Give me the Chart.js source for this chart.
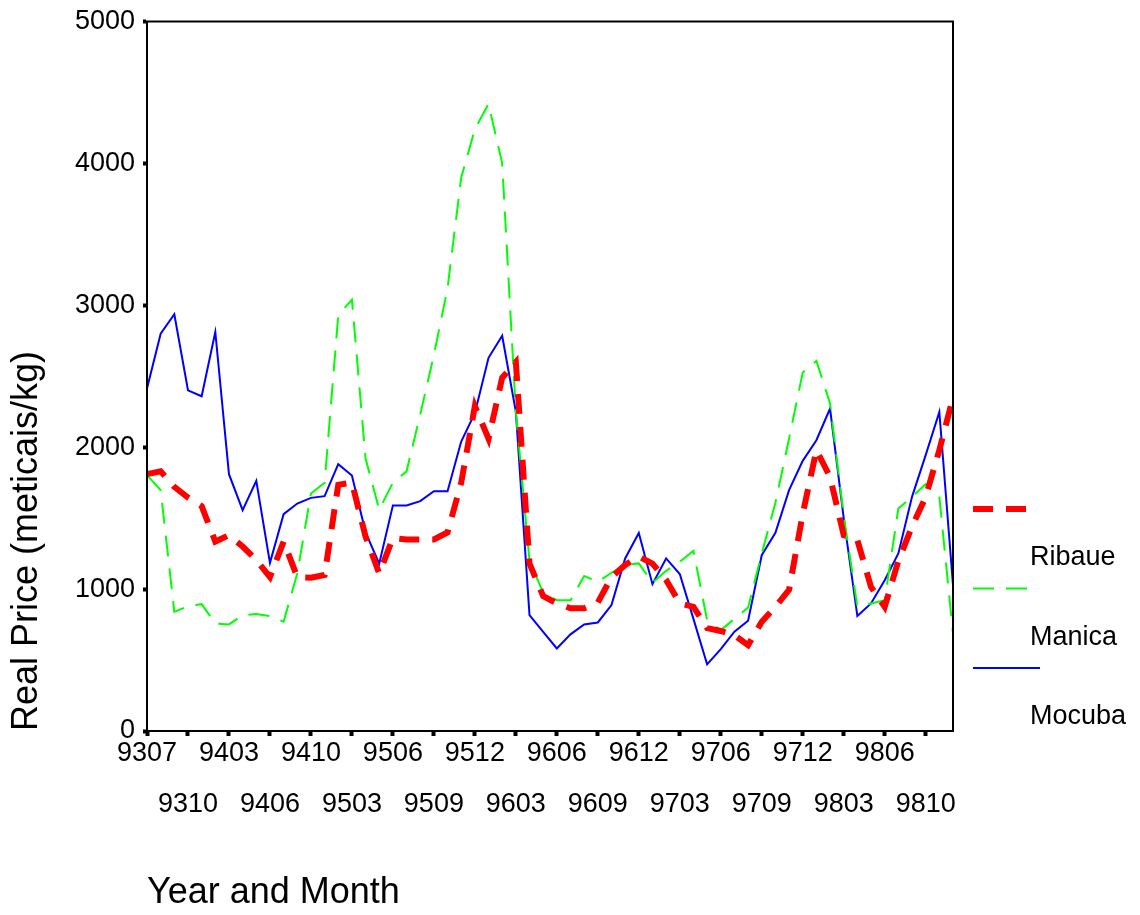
<!DOCTYPE html>
<html>
<head>
<meta charset="utf-8">
<title>Real Price</title>
<script src="https://cdn.jsdelivr.net/npm/chart.js@4.4.1/dist/chart.umd.min.js"></script>
<style>
  body { margin: 0; background: #fff; }
</style>
</head>
<body>
<canvas id="chart1" width="1140" height="915"></canvas>
<script>
// year+month codes (some months missing in the source series)
var months = ['9307','9308','9309','9310','9311','9312','9403','9404','9405','9406',
              '9407','9408','9410','9411','9412','9503','9504','9505','9506','9507',
              '9508','9509','9510','9511','9512','9601','9602','9603','9604','9605',
              '9606','9607','9608','9609','9610','9611','9612','9701','9702','9703',
              '9704','9705','9706','9707','9708','9709','9710','9711','9712','9801',
              '9802','9803','9804','9805','9806','9807','9808','9810','9811','9812'];

var ribaue = [1810,1830,1720,1645,1585,1335,1380,1300,1205,1085,
              1335,1085,1080,1100,1735,1750,1370,1110,1360,1350,
              1350,1350,1400,1750,2290,2060,2490,2600,1180,950,
              900,865,865,905,1085,1170,1230,1180,1065,900,
              875,725,705,675,605,770,875,995,1530,1980,
              1790,1380,1345,1015,875,1200,1440,1650,1980,2350];

var manica = [1803,1697,840,880,894,758,751,817,824,810,
              770,1110,1674,1749,2930,3040,1920,1560,1750,1830,
              2230,2650,3120,3900,4240,4420,4000,2250,1200,974,
              922,922,1092,1052,1115,1169,1181,1045,1129,1192,
              1270,782,711,790,870,1251,1608,2061,2526,2608,
              2308,1520,876,899,922,1568,1650,1739,1650,688];

var mocuba = [2413,2800,2937,2401,2359,2812,1810,1556,1763,1185,
              1528,1603,1643,1655,1880,1800,1400,1180,1590,1590,
              1620,1690,1690,2040,2240,2630,2785,2250,817,699,
              582,681,751,765,887,1216,1396,1035,1216,1106,
              790,470,577,700,777,1239,1397,1697,1904,2049,
              2272,1500,810,899,1063,1251,1650,1944,2249,1028];

var yTicks = [0, 1000, 2000, 3000, 4000, 5000];

var FONT = "'Liberation Sans', Arial, sans-serif";

// box round the plot
var frame = {
    id: 'frame',
    afterDraw: function (chart) {
        var a = chart.chartArea, ctx = chart.ctx;
        ctx.save();
        ctx.strokeStyle = '#000';
        ctx.lineWidth = 2;
        ctx.strokeRect(a.left, a.top, a.right - a.left, a.bottom - a.top);
        ctx.restore();
    }
};

// SPSS style legend: sample line above its name
var sideLegend = {
    id: 'sideLegend',
    afterDraw: function (chart) {
        var ctx = chart.ctx, a = chart.chartArea;
        ctx.save();
        chart.data.datasets.forEach(function (ds, i) {
            var y = 509 + i * 79.5;
            ctx.beginPath();
            ctx.strokeStyle = ds.borderColor;
            ctx.lineWidth = ds.borderWidth;
            ctx.lineCap = 'butt';
            ctx.setLineDash(ds.borderDash || []);
            ctx.moveTo(a.right + 20, y);
            ctx.lineTo(a.right + (ds.borderDash ? 75 : 87), y);
            ctx.stroke();
            ctx.setLineDash([]);
            ctx.fillStyle = '#000';
            ctx.font = '27px ' + FONT;
            ctx.textBaseline = 'middle';
            ctx.textAlign = 'left';
            ctx.fillText(ds.label, a.right + 77, y + 49);
        });
        ctx.restore();
    }
};

var ctx1 = document.getElementById('chart1').getContext('2d');
var chart1 = new Chart(ctx1, {
    type: 'line',
    data: {
        labels: months,
        datasets: [
            { label: 'Ribaue', data: ribaue, borderColor: '#ff0000', borderWidth: 6,
              borderDash: [20, 13], borderCapStyle: 'butt' },
            { label: 'Manica', data: manica, borderColor: '#00ff00', borderWidth: 2,
              borderDash: [21, 12], borderCapStyle: 'butt' },
            { label: 'Mocuba', data: mocuba, borderColor: '#0000ff', borderWidth: 2 }
        ]
    },
    options: {
        responsive: false,
        animation: false,
        elements: {
            line: { tension: 0, fill: false },
            point: { radius: 0, hoverRadius: 0 }
        },
        layout: { padding: { left: 5, top: 18, right: 187, bottom: 0 } },
        plugins: {
            legend: { display: false },
            tooltip: { enabled: false }
        },
        scales: {
            x: {
                offset: false,
                afterFit: function (s) { s.height = 184; },
                border: { display: true, color: '#000', width: 2 },
                grid: {
                    drawOnChartArea: false,
                    drawTicks: true,
                    tickLength: 5,
                    tickWidth: 4,
                    tickColor: function (c) { return c.index % 3 === 0 ? '#000' : 'rgba(0,0,0,0)'; }
                },
                ticks: {
                    autoSkip: false,
                    maxRotation: 0,
                    minRotation: 0,
                    padding: -8,
                    color: '#000',
                    font: { family: FONT, size: 27, lineHeight: 51 / 27 },
                    callback: function (value, index) {
                        if (index % 3 !== 0) return '';
                        var lab = this.getLabelForValue(value);
                        return (index / 3) % 2 ? ['', lab] : [lab, ''];
                    }
                },
                title: {
                    display: true,
                    text: 'Year and Month',
                    align: 'start',
                    color: '#000',
                    font: { family: FONT, size: 36, lineHeight: 1.2 },
                    padding: { top: 0, bottom: 0 }
                }
            },
            y: {
                min: 0,
                max: 5000,
                afterFit: function (s) { s.width = 142; },
                afterBuildTicks: function (s) {
                    s.ticks = yTicks.map(function (v) { return { value: v }; });
                },
                border: { display: true, color: '#000', width: 2 },
                grid: {
                    drawOnChartArea: false,
                    drawTicks: true,
                    tickLength: 4,
                    tickWidth: 4,
                    tickColor: '#000'
                },
                ticks: {
                    padding: 8,
                    color: '#000',
                    font: { family: FONT, size: 27, lineHeight: 1 },
                    callback: function (v) { return String(v); }
                },
                title: {
                    display: true,
                    text: 'Real Price (meticais/kg)',
                    align: 'start',
                    color: '#000',
                    font: { family: FONT, size: 36, lineHeight: 1.2 },
                    padding: { top: 0, bottom: 0 }
                }
            }
        }
    },
    plugins: [frame, sideLegend]
});
</script>
</body>
</html>
